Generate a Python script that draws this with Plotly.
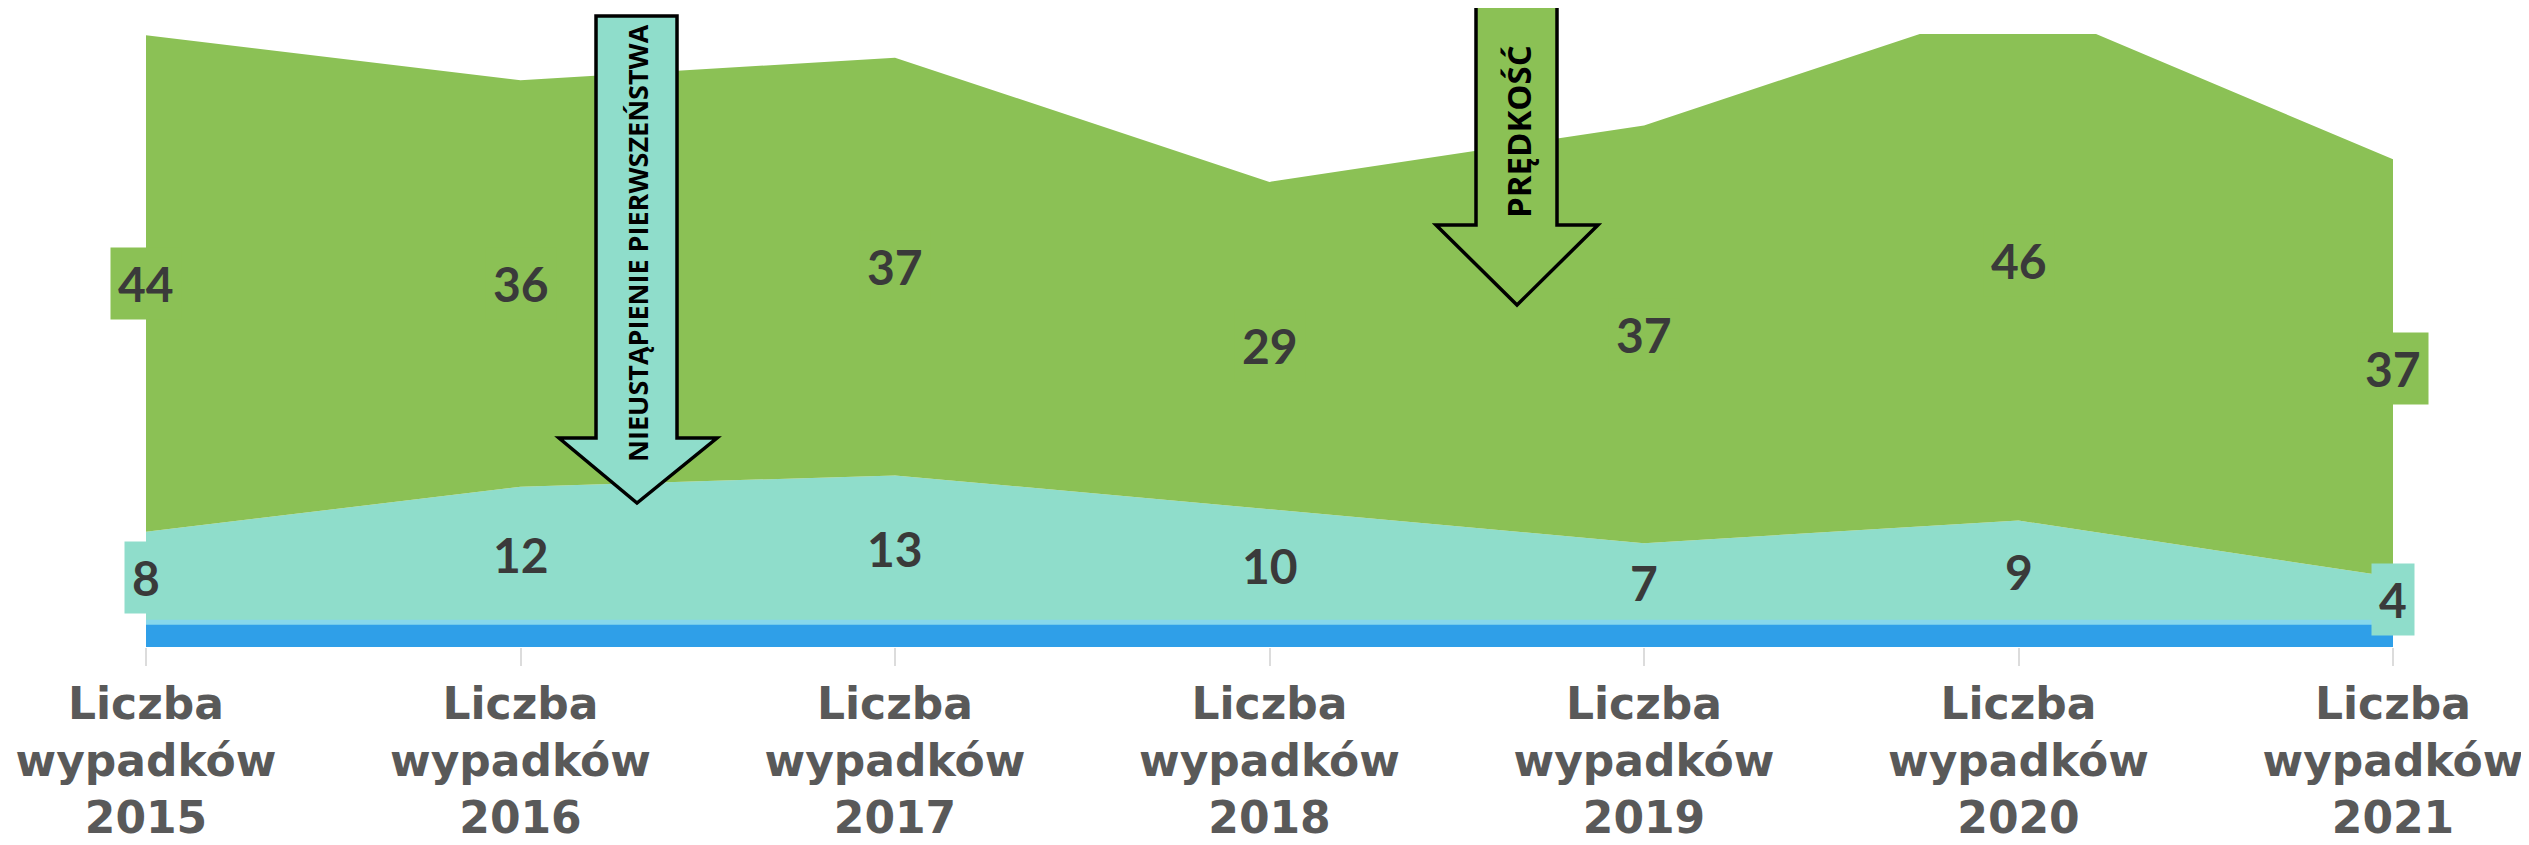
import plotly.graph_objects as go

# ---- data ----
years = ["2015", "2016", "2017", "2018", "2019", "2020", "2021"]
tick_labels = ["Liczba<br>wypadków<br>" + y for y in years]
base_band = [2.2, 2.2, 2.2, 2.2, 2.2, 2.2, 2.2]          # blue base band
priority = [8, 12, 13, 10, 7, 9, 4]                        # nieustąpienie pierwszeństwa
speed = [44, 36, 37, 29, 37, 46, 37]                       # prędkość

# ---- style ----
OFF = 8                     # default body margin of the html page
W, H = 2529 - OFF, 845 - OFF
# plot area in reference-image pixels: x 146..2393, y 34..647
M_L, M_R = 146 - OFF, 2529 - 2393
M_T, M_B = 34 - OFF, 845 - 647
Y_MAX = 54.3
BLUE = "#2f9fe8"
BLUE_EDGE = "#86d7ec"
TEAL = "#8fddcb"
GREEN = "#8bc155"
LABEL_COLOR = "#3a3a3a"
TICK_COLOR = "#595959"
FONT = "Lato"

x = list(range(len(years)))

fig = go.Figure()
fig.add_trace(go.Scatter(x=x, y=base_band, stackgroup="s", mode="lines",
                         line=dict(color=BLUE_EDGE, width=5), fillcolor=BLUE,
                         hoverinfo="skip", showlegend=False))
fig.add_trace(go.Scatter(x=x, y=priority, stackgroup="s", mode="lines",
                         line=dict(width=0, color=TEAL), fillcolor=TEAL,
                         hoverinfo="skip", showlegend=False))
fig.add_trace(go.Scatter(x=x, y=speed, stackgroup="s", mode="lines",
                         line=dict(width=0, color=GREEN), fillcolor=GREEN,
                         hoverinfo="skip", showlegend=False))

# data labels in the middle of each band
for i in x:
    yb = base_band[i]
    fig.add_annotation(x=i, y=yb + priority[i] / 2, text="<b>%d</b>" % priority[i],
                       showarrow=False, bgcolor=TEAL, borderpad=7,
                       xanchor="center", yanchor="middle",
                       font=dict(family=FONT, size=48, color=LABEL_COLOR))
    fig.add_annotation(x=i, y=yb + priority[i] + speed[i] / 2, text="<b>%d</b>" % speed[i],
                       showarrow=False, bgcolor=GREEN, borderpad=7,
                       xanchor="center", yanchor="middle",
                       font=dict(family=FONT, size=48, color=LABEL_COLOR))

# helper: reference-pixel -> paper coordinates
PW = 2393 - 146
PH = 647 - 34
def px(xp):
    return (xp - 146) / PW
def py(yp):
    return 1 - (yp - 34) / PH

def arrow_path(x0, x1, top, neck, hx0, hx1, tipx, tipy):
    pts = [(x0, top), (x1, top), (x1, neck), (hx1, neck), (tipx, tipy),
           (hx0, neck), (x0, neck)]
    return "M " + " L ".join(f"{px(a):.5f},{py(b):.5f}" for a, b in pts) + " Z"

fig.add_shape(type="path", xref="paper", yref="paper",
              path=arrow_path(596, 677, 16, 438, 559, 717, 637, 503),
              fillcolor=TEAL, line=dict(color="black", width=3.5), layer="above")
fig.add_shape(type="path", xref="paper", yref="paper",
              path=arrow_path(1476, 1557, 2, 225, 1436, 1598, 1517, 305),
              fillcolor=GREEN, line=dict(color="black", width=3.5), layer="above")

fig.add_annotation(xref="paper", yref="paper", x=px(638), y=py(243),
                   xanchor="center", yanchor="middle",
                   text="<b>NIEUSTĄPIENIE PIERWSZEŃSTWA</b>", textangle=-90, showarrow=False,
                   font=dict(family="Open Sans", size=27, color="black"))
fig.add_annotation(xref="paper", yref="paper", x=px(1518), y=py(132),
                   xanchor="center", yanchor="middle",
                   text="<b>PRĘDKOŚĆ</b>", textangle=-90, showarrow=False,
                   font=dict(family="Open Sans", size=33, color="black"))

fig.update_layout(
    width=W, height=H,
    margin=dict(l=M_L, r=M_R, t=M_T, b=M_B, autoexpand=False),
    paper_bgcolor="white", plot_bgcolor="white",
    hovermode=False,
    xaxis=dict(range=[0, 6], tickvals=x, ticktext=tick_labels, showgrid=False,
               zeroline=False, showline=False, ticks="outside", ticklen=18,
               tickwidth=2, tickcolor="#dcdcdc", automargin=False,
               tickfont=dict(family="DejaVu Sans", size=44, color=TICK_COLOR, weight="bold")),
    yaxis=dict(range=[0, Y_MAX], visible=False, fixedrange=True, automargin=False),
)

fig.write_html("out.html")
